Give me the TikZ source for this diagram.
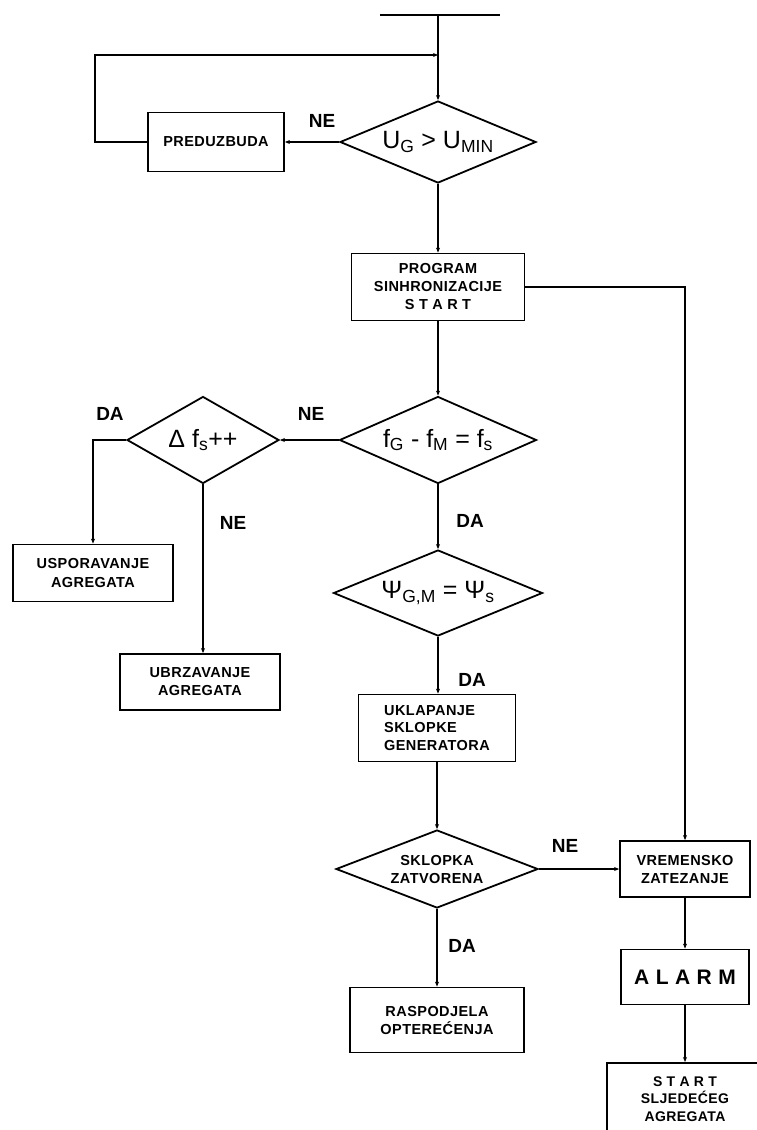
\documentclass[tikz,border=0pt]{standalone}
\usepackage{fontspec}
\setmainfont{Liberation Sans}
\newfontfamily\boxfam[LetterSpace=3]{Liberation Sans}
\usetikzlibrary{shapes.geometric,arrows.meta}
\begin{document}
\begin{tikzpicture}[x=1pt,y=-1pt,
  line width=1.8pt,
  boxfont/.style={font=\boxfam\bfseries\fontsize{14.5}{18}\selectfont},
  box/.style={draw, rectangle, inner sep=0pt, align=center, boxfont},
  dia/.style={draw, diamond, inner sep=0pt, aspect=2.3, align=center},
  big/.style={font=\fontsize{25}{29}\selectfont},
  lbl/.style={font=\bfseries\fontsize{19}{22}\selectfont, inner sep=0pt},
  arr/.style={-{Stealth[length=5pt,width=4pt]}},
]
\path[use as bounding box] (0,0) rectangle (757,1130);

% nodes
\node[box, minimum width=136pt, minimum height=59pt] (pre) at (216,142) {PREDUZBUDA};
\node[dia, big, minimum width=196pt, minimum height=82pt] (d1) at (438,142) {U\textsubscript{G} > U\textsubscript{MIN}};
\node[box, minimum width=173pt, minimum height=67pt] (prog) at (438,287) {PROGRAM\\SINHRONIZACIJE\\S T A R T};
\node[dia, big, minimum width=197pt, minimum height=87pt] (d2) at (438,440) {f\textsubscript{G} - f\textsubscript{M} = f\textsubscript{s}};
\node[dia, big, minimum width=152pt, minimum height=87pt] (del) at (203,440) {Δ f\textsubscript{s}++};
\node[box, minimum width=160pt, minimum height=57pt] (usp) at (93,573) {USPORAVANJE\\AGREGATA};
\node[box, minimum width=160pt, minimum height=56pt] (ubr) at (200,682) {UBRZAVANJE\\AGREGATA};
\node[dia, big, minimum width=209pt, minimum height=86pt] (d3) at (438,593) {Ψ\textsubscript{G,M} = Ψ\textsubscript{s}};
\node[box, minimum width=157pt, minimum height=67pt, align=left, font=\boxfam\bfseries\fontsize{14.5}{17.5}\selectfont] (uk) at (437,728) {UKLAPANJE\\SKLOPKE\\GENERATORA};
\node[dia, minimum width=202pt, minimum height=78pt, boxfont] (d4) at (437,869) {SKLOPKA\\ZATVORENA};
\node[box, minimum width=174pt, minimum height=65pt] (rasp) at (437,1020) {RASPODJELA\\OPTEREĆENJA};
\node[box, minimum width=130pt, minimum height=56pt] (vrem) at (685,869) {VREMENSKO\\ZATEZANJE};
\node[box, minimum width=128pt, minimum height=55pt, font=\boxfam\bfseries\fontsize{21}{24}\selectfont] (alarm) at (685,977) {A L A R M};
\node[box, minimum width=156pt, minimum height=72pt, anchor=north, font=\boxfam\bfseries\fontsize{14}{17.5}\selectfont] (startn) at (685,1062) {S T A R T\\SLJEDEĆEG\\AGREGATA};

% coordinates
\coordinate (tl) at (380,15);
\coordinate (tr) at (500,15);
\coordinate (tm) at (438,15);
\coordinate (j) at (438,55);
\coordinate (lp) at (95,55);

% connectors
\draw (tl) -- (tr);
\draw[arr] (tm) -- (d1.north);
\draw[arr] (d1.west) -- (pre.east);
\draw[arr] (pre.west) -| (lp) -- (j);
\draw[arr] (d1.south) -- (prog.north);
\draw[arr] (prog.east) -| (vrem.north);
\draw[arr] (prog.south) -- (d2.north);
\draw[arr] (d2.west) -- (del.east);
\draw[arr] (del.west) -| (usp.north);
\draw[arr] (del.south) -- (del.south |- ubr.north);
\draw[arr] (d2.south) -- (d3.north);
\draw[arr] (d3.south) -- (d3.south |- uk.north);
\draw[arr] (uk.south) -- (uk.south |- d4.north);
\draw[arr] (d4.east) -- (vrem.west);
\draw[arr] (d4.south) -- (rasp.north);
\draw[arr] (vrem.south) -- (alarm.north);
\draw[arr] (alarm.south) -- (startn.north);

% labels
\node[lbl] (l1) at (322,121) {NE};
\node[lbl] (l2) at (311,414) {NE};
\node[lbl] (l3) at (110,414) {DA};
\node[lbl] (l4) at (233,523) {NE};
\node[lbl] (l5) at (470,521) {DA};
\node[lbl] (l6) at (472,680) {DA};
\node[lbl] (l7) at (565,846) {NE};
\node[lbl] (l8) at (462,946) {DA};
\end{tikzpicture}
\end{document}
